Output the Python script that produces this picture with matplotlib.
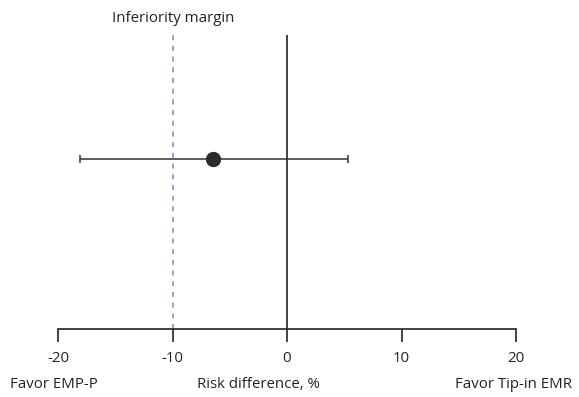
import matplotlib
matplotlib.use("Agg")
import matplotlib.pyplot as plt

plt.rcParams['font.family'] = ['Open Sans', 'DejaVu Sans']

estimate = [-6.5]
ci_low = [-18.1]
ci_high = [5.3]
margin = -10
ticks = [-20, -10, 0, 10, 20]
tick_labels = ['-20', '-10', '0', '10', '20']

fig = plt.figure(figsize=(5.79, 3.97), dpi=100)
ax = fig.add_axes([58/579, 1-329/397, (516-58)/579, (329-35)/397])
ax.set_xlim(-20, 20)
ax.set_ylim(0, 1)
yv = [0.578]
dark = '#2b2b2b'
ax.errorbar(estimate, yv, xerr=[[estimate[0]-ci_low[0]], [ci_high[0]-estimate[0]]],
            fmt='o', color=dark, ecolor='#333333', elinewidth=1.1, capsize=3,
            capthick=1.1, markersize=10, zorder=3)
ax.axvline(0, color='#222222', lw=1.2, zorder=2)
ax.axvline(margin, color='#6b8fc9', lw=1.1, ls=(0, (3.3, 3.7)), zorder=1)
for s in ['top', 'left', 'right']:
    ax.spines[s].set_visible(False)
ax.spines['bottom'].set_color('#222222')
ax.spines['bottom'].set_linewidth(1.2)
ax.set_yticks([])
ax.set_xticks(ticks)
ax.set_xticklabels(tick_labels)
ax.tick_params(axis='x', length=9.5, width=1.2, color='#222222', labelsize=10.8,
               labelcolor='#222222', pad=6)

fig.text(173/579, 1-18/397, 'Inferiority margin', ha='center', va='center',
         fontsize=10.8, color='#222222')
fig.text(10/579, 1-384/397, 'Favor EMP-P', ha='left', va='center', fontsize=10.8, color='#222222')
fig.text(258/579, 1-384/397, 'Risk difference, %', ha='center', va='center', fontsize=10.8, color='#222222')
fig.text(572/579, 1-384/397, 'Favor Tip-in EMR', ha='right', va='center', fontsize=10.8, color='#222222')

fig.savefig('out.png', dpi=100)
